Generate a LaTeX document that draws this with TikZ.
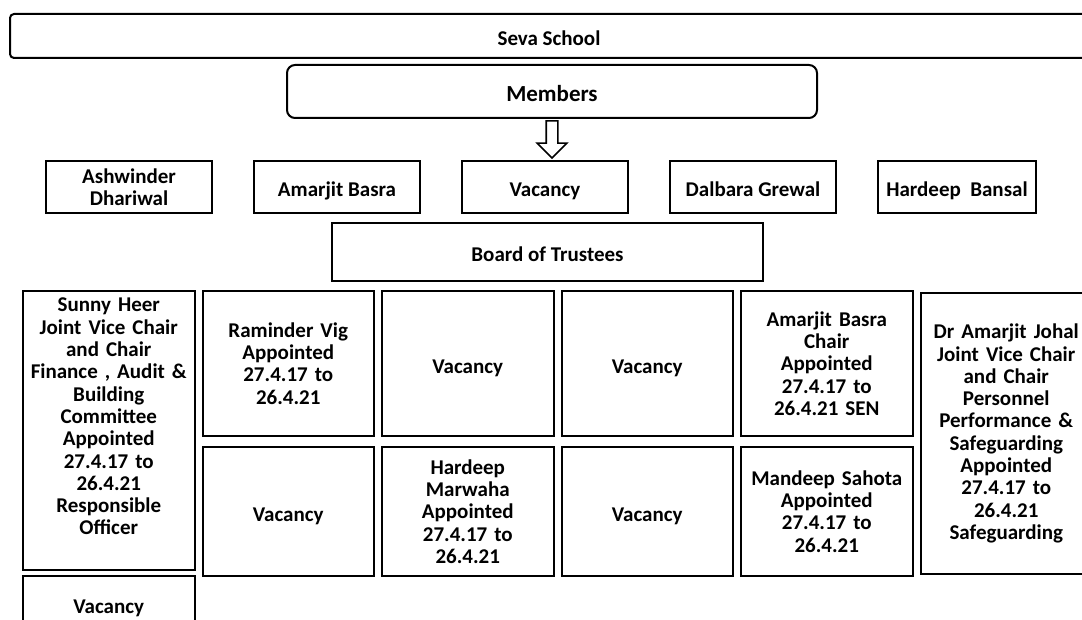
\documentclass[tikz,border=0pt]{standalone}
\usepackage{fontspec}
\setmainfont{Carlito}
\usetikzlibrary{positioning,shapes.arrows}

\begin{document}
\begin{tikzpicture}[x=1pt, y=-1pt, node distance=6pt,
    box/.style={rectangle, draw, line width=2pt, align=center, inner sep=2pt, font=\bfseries\fontsize{21}{22.3}\selectfont},
    oneline/.style={text height=25pt, text depth=5pt},
    head/.style={box, oneline, rounded corners=4pt, minimum height=44pt},
    member/.style={box, minimum width=166pt, minimum height=52pt},
    cell/.style={box, text width=165pt, minimum width=171.5pt},
    downarrow/.style={single arrow, draw, line width=1.6pt, rotate=-90, inner xsep=0pt, inner ysep=5pt, single arrow head extend=9pt, minimum height=37pt}]
    \useasboundingbox (0,0) rectangle (1082,620);

    % Top - school and members
    \node [head, minimum width=1078pt] (seva) at (549,36) {Seva School};
    \node [head, rounded corners=8pt, minimum width=530pt, minimum height=53pt, font=\bfseries\fontsize{23}{24}\selectfont] (members) at (552,91.5) {Members};
    \node [downarrow] (memarrow) at (552,136.5) {};

    % Member names
    \node [member] (dhariwal) at (129,187) {Ashwinder\\Dhariwal};
    \node [member, oneline, right=40pt of dhariwal] (basra) {Amarjit Basra};
    \node [member, oneline, right=40pt of basra] (vacmember) {Vacancy};
    \node [member, oneline, right=40pt of vacmember] (grewal) {Dalbara Grewal};
    \node [member, oneline, minimum width=158pt, right=40pt of grewal] (bansal) {Hardeep\ \ Bansal};

    \node [box, oneline, minimum width=431pt, minimum height=58pt] (board) at (547.5,252) {Board of Trustees};

    % Trustees - first row
    \node [cell, text height=19pt, text depth=256pt, anchor=north west] (heer) at (22,290) {Sunny Heer\\Joint Vice Chair\\and Chair\\Finance , Audit \&\\Building\\Committee\\Appointed\\27.4.17 to\\26.4.21\\Responsible\\Officer};
    \node [cell, minimum height=145pt, below right=0pt and 6pt of heer.north east] (vig) {Raminder Vig\\Appointed\\27.4.17 to\\26.4.21};
    \node [cell, oneline, minimum height=145pt, right=of vig] (vactop1) {Vacancy};
    \node [cell, oneline, minimum height=145pt, right=of vactop1] (vactop2) {Vacancy};
    \node [cell, minimum height=145pt, right=of vactop2] (chair) {Amarjit Basra\\Chair\\Appointed\\27.4.17 to\\26.4.21 SEN};
    \node [cell, minimum height=281pt, below right=2pt and 6pt of chair.north east] (johal) {Dr Amarjit Johal\\Joint Vice Chair\\and Chair\\Personnel\\Performance \&\\Safeguarding\\Appointed\\27.4.17 to\\26.4.21\\Safeguarding};

    % Trustees - second row
    \node [cell, oneline, minimum height=129pt, below=9pt of vig] (vacbot1) {Vacancy};
    \node [cell, minimum height=129pt, right=of vacbot1] (marwaha) {Hardeep\\Marwaha\\Appointed\\27.4.17 to\\26.4.21};
    \node [cell, oneline, minimum height=129pt, right=of marwaha] (vacbot2) {Vacancy};
    \node [cell, minimum height=129pt, right=of vacbot2] (sahota) {Mandeep Sahota\\Appointed\\27.4.17 to\\26.4.21};

    \node [cell, oneline, minimum height=55pt, below=4pt of heer] (vaclast) {Vacancy};
\end{tikzpicture}
\end{document}
